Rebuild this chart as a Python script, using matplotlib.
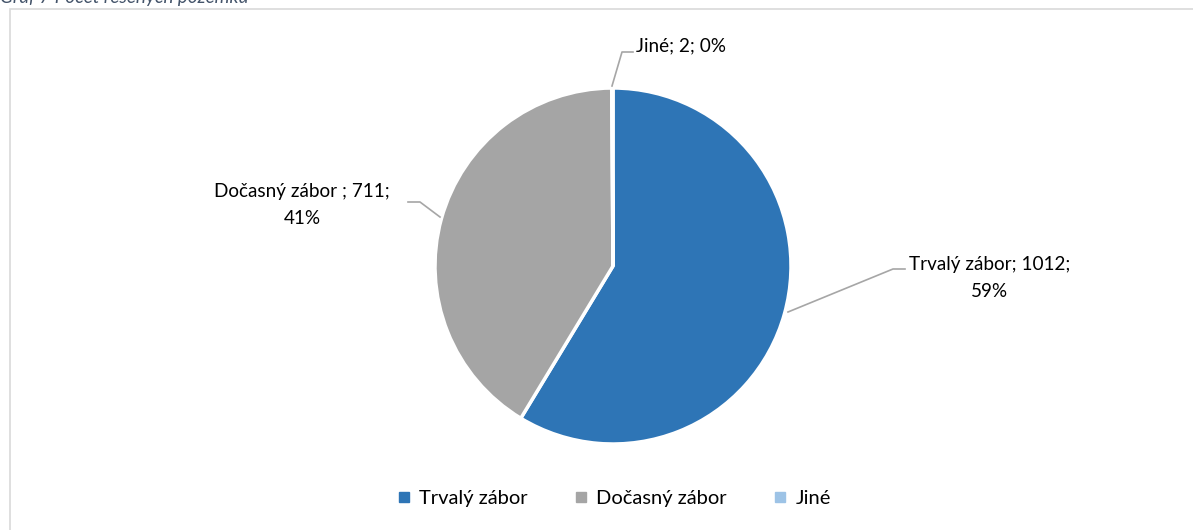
import matplotlib.pyplot as plt
from matplotlib.patches import Rectangle

# ── Data ──────────────────────────────────────────────────────────────
labels = ['Trvalý zábor', 'Dočasný zábor', 'Jiné']
label_names = ['Trvalý zábor', 'Dočasný zábor ', 'Jiné']
values = [1012, 711, 2]
percents = ['59%', '41%', '0%']
colors = ['#2E75B6', '#A5A5A5', '#9DC3E6']

plt.rcParams.update({'font.family': ['Lato', 'DejaVu Sans'], 'font.size': 13.6})

W, H = 1193, 530
fig = plt.figure(figsize=(W / 100, H / 100), dpi=100)

# chart frame and clipped caption above it
fig.patches.append(Rectangle((9.5 / W, -0.1), 1.2, 1 - 8.5 / H + 0.1,
                             transform=fig.transFigure, fill=False,
                             edgecolor='#D9D9D9', linewidth=1.2))
fig.text(0.0, 1 - 3 / H, 'Graf 7 Počet řešených pozemků', color='#44546A',
         style='italic', fontsize=13.6, va='baseline', ha='left')

# ── Pie ──────────────────────────────────────────────────────────────
cx, cy, r = 613, 266, 178
ax = fig.add_axes([(cx - r) / W, (H - cy - r) / H, 2 * r / W, 2 * r / H])
wedges, _ = ax.pie(values, colors=colors, startangle=90, counterclock=False,
                   radius=1, wedgeprops=dict(edgecolor='white', linewidth=2.5))
ax.set_xlim(-1, 1)
ax.set_ylim(-1, 1)
ax.set_aspect('equal')
ax.axis('off')


def d(px, py):
    return ((px - cx) / r, (cy - py) / r)


# data labels with leader lines (pixel positions from reference)
lead = [
    [(788, 312), (893, 269), (905, 269)],
    [(440, 217), (420, 202), (408, 202)],
    [(612, 86), (622, 52), (633, 52)],
]
texts = [
    (990, 278, 'center', f'{label_names[0]}; {values[0]};\n{percents[0]}'),
    (302, 205, 'center', f'{label_names[1]}; {values[1]};\n{percents[1]}'),
    (636, 46, 'left', f'{label_names[2]}; {values[2]}; {percents[2]}'),
]
for pts, (tx, ty, ha, s) in zip(lead, texts):
    xs, ys = zip(*[d(*p) for p in pts])
    ax.plot(xs, ys, color='#A6A6A6', linewidth=1.2, clip_on=False)
    ax.text(*d(tx, ty), s, ha=ha, va='center', multialignment='center',
            color='#000000', linespacing=1.65)

# ── Legend ───────────────────────────────────────────────────────────
handles = [plt.Line2D([], [], marker='s', linestyle='', color=c, markersize=7)
           for c in colors]
fig.legend(handles, labels, loc='center', ncol=3, frameon=False, fontsize=14.5,
           bbox_to_anchor=(613 / W, 1 - 498 / H), handletextpad=0.3,
           columnspacing=2.2, handlelength=0.9)

fig.savefig('out.png', dpi=100)
